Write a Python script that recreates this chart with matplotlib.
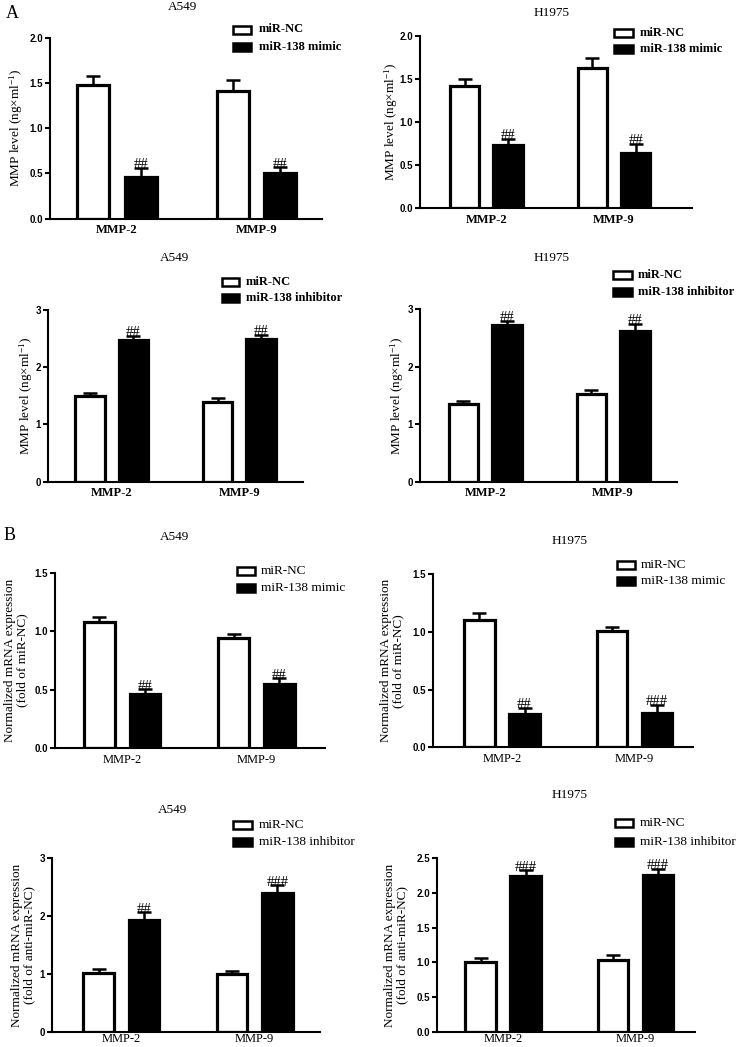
import matplotlib
matplotlib.use('Agg')
import matplotlib.pyplot as plt
from matplotlib.patches import Rectangle
import numpy as np

plt.rcParams['mathtext.fontset'] = 'custom'
plt.rcParams['mathtext.rm'] = 'Liberation Serif'
plt.rcParams['mathtext.it'] = 'Liberation Serif:italic'

# ---------------- data ----------------
groups = ['MMP-2', 'MMP-9']

a_mimic_a549_nc = [1.48, 1.41];   a_mimic_a549_nc_err = [0.10, 0.12]
a_mimic_a549_trt = [0.46, 0.50];  a_mimic_a549_trt_err = [0.10, 0.07]
a_mimic_h1975_nc = [1.42, 1.63];  a_mimic_h1975_nc_err = [0.08, 0.12]
a_mimic_h1975_trt = [0.73, 0.64]; a_mimic_h1975_trt_err = [0.08, 0.11]
a_inh_a549_nc = [1.49, 1.40];     a_inh_a549_nc_err = [0.06, 0.06]
a_inh_a549_trt = [2.47, 2.50];    a_inh_a549_trt_err = [0.08, 0.07]
a_inh_h1975_nc = [1.35, 1.53];    a_inh_h1975_nc_err = [0.05, 0.06]
a_inh_h1975_trt = [2.73, 2.63];   a_inh_h1975_trt_err = [0.07, 0.12]

b_mimic_a549_nc = [1.08, 0.94];   b_mimic_a549_nc_err = [0.045, 0.035]
b_mimic_a549_trt = [0.46, 0.55];  b_mimic_a549_trt_err = [0.045, 0.05]
b_mimic_h1975_nc = [1.10, 1.01];  b_mimic_h1975_nc_err = [0.065, 0.035]
b_mimic_h1975_trt = [0.29, 0.30]; b_mimic_h1975_trt_err = [0.05, 0.07]
b_inh_a549_nc = [1.01, 1.00];     b_inh_a549_nc_err = [0.08, 0.045]
b_inh_a549_trt = [1.94, 2.40];    b_inh_a549_trt_err = [0.13, 0.13]
b_inh_h1975_nc = [1.01, 1.03];    b_inh_h1975_nc_err = [0.05, 0.08]
b_inh_h1975_trt = [2.25, 2.26];   b_inh_h1975_trt_err = [0.08, 0.09]

sig_a_mimic_a549 = ['##', '##']
sig_a_mimic_h1975 = ['##', '##']
sig_a_inh_a549 = ['##', '##']
sig_a_inh_h1975 = ['##', '##']
sig_b_mimic_a549 = ['##', '##']
sig_b_mimic_h1975 = ['##', '###']
sig_b_inh_a549 = ['##', '###']
sig_b_inh_h1975 = ['###', '###']

ticks_2 = [0.0, 0.5, 1.0, 1.5, 2.0]
ticks_3 = [0, 1, 2, 3]
ticks_15 = [0.0, 0.5, 1.0, 1.5]
ticks_25 = [0.0, 0.5, 1.0, 1.5, 2.0, 2.5]

ylab_a = 'MMP level (ng×ml$^{-1}$)'
ylab_b1 = 'Normalized mRNA expression\n(fold of miR-NC)'
ylab_b2 = 'Normalized mRNA expression\n(fold of anti-miR-NC)'
leg_nc = 'miR-NC'
leg_mimic = 'miR-138 mimic'
leg_inh = 'miR-138 inhibitor'

# ---------------- layout ----------------
W, H = 740, 1047
fig = plt.figure(figsize=(W / 100, H / 100), dpi=100)

SERIF = 'Liberation Serif'
SANS = 'Liberation Sans'

panels = [
    dict(rect=(50, 322, 218.7, 37.7), xlim=(-0.48, 1.47), ticks=ticks_2, fmt='{:.1f}',
         nc=a_mimic_a549_nc, nce=a_mimic_a549_nc_err, tr=a_mimic_a549_trt, tre=a_mimic_a549_trt_err,
         sig=sig_a_mimic_a549, title='A549', tpos=(182, 7), ylab=ylab_a, ylx=16,
         leg=leg_mimic, box=(233, 251), ly=(29.5, 47), tx=259, bold=True, xpad=4),
    dict(rect=(420, 692, 208.3, 36), xlim=(-0.52, 1.61), ticks=ticks_2, fmt='{:.1f}',
         nc=a_mimic_h1975_nc, nce=a_mimic_h1975_nc_err, tr=a_mimic_h1975_trt, tre=a_mimic_h1975_trt_err,
         sig=sig_a_mimic_h1975, title='H1975', tpos=(552, 13), ylab=ylab_a, ylx=391,
         leg=leg_mimic, box=(614, 633), ly=(33, 49), tx=640, bold=True, xpad=4),
    dict(rect=(48, 303, 481.7, 310), xlim=(-0.50, 1.50), ticks=ticks_3, fmt='{:.0f}',
         nc=a_inh_a549_nc, nce=a_inh_a549_nc_err, tr=a_inh_a549_trt, tre=a_inh_a549_trt_err,
         sig=sig_a_inh_a549, title='A549', tpos=(175, 258), ylab=ylab_a, ylx=26,
         leg=leg_inh, box=(222, 239), ly=(282, 298), tx=246, bold=True, xpad=4),
    dict(rect=(420, 677, 481.7, 309.3), xlim=(-0.51, 1.50), ticks=ticks_3, fmt='{:.0f}',
         nc=a_inh_h1975_nc, nce=a_inh_h1975_nc_err, tr=a_inh_h1975_trt, tre=a_inh_h1975_trt_err,
         sig=sig_a_inh_h1975, title='H1975', tpos=(552, 258), ylab=ylab_a, ylx=397,
         leg=leg_inh, box=(613, 632), ly=(275, 292), tx=638, bold=True, xpad=4),
    dict(rect=(55, 325, 748.3, 572.7), xlim=(-0.50, 1.51), ticks=ticks_15, fmt='{:.1f}',
         nc=b_mimic_a549_nc, nce=b_mimic_a549_nc_err, tr=b_mimic_a549_trt, tre=b_mimic_a549_trt_err,
         sig=sig_b_mimic_a549, title='A549', tpos=(175, 537), ylab=ylab_b1, ylx=16,
         leg=leg_mimic, box=(237, 255), ly=(571, 588), tx=261, bold=False, xpad=4),
    dict(rect=(433, 693, 747.3, 574), xlim=(-0.52, 1.44), ticks=ticks_15, fmt='{:.1f}',
         nc=b_mimic_h1975_nc, nce=b_mimic_h1975_nc_err, tr=b_mimic_h1975_trt, tre=b_mimic_h1975_trt_err,
         sig=sig_b_mimic_h1975, title='H1975', tpos=(570, 541), ylab=ylab_b1, ylx=392,
         leg=leg_mimic, box=(617, 635), ly=(565, 581), tx=641, bold=False, xpad=4),
    dict(rect=(52, 320, 1031.7, 858.3), xlim=(-0.52, 1.49), ticks=ticks_3, fmt='{:.0f}',
         nc=b_inh_a549_nc, nce=b_inh_a549_nc_err, tr=b_inh_a549_trt, tre=b_inh_a549_trt_err,
         sig=sig_b_inh_a549, title='A549', tpos=(173, 810), ylab=ylab_b2, ylx=23,
         leg=leg_inh, box=(233, 252), ly=(825, 842), tx=259, bold=False, xpad=1.2),
    dict(rect=(437, 695, 1031.7, 858.3), xlim=(-0.50, 1.45), ticks=ticks_25, fmt='{:.1f}',
         nc=b_inh_h1975_nc, nce=b_inh_h1975_nc_err, tr=b_inh_h1975_trt, tre=b_inh_h1975_trt_err,
         sig=sig_b_inh_h1975, title='H1975', tpos=(570, 795), ylab=ylab_b2, ylx=396,
         leg=leg_inh, box=(615, 633), ly=(823, 842), tx=640, bold=False, xpad=1.2),
]

OFF = 0.17
WID = 0.23
BAR_LW = 2.3

for p in panels:
    x0, x1, yz, yt = p['rect']
    ax = fig.add_axes([x0 / W, 1 - yz / H, (x1 - x0) / W, (yz - yt) / H])
    x = np.arange(len(groups))
    nc = np.array(p['nc']); tr = np.array(p['tr'])
    nce = np.array(p['nce']); tre = np.array(p['tre'])
    ax.bar(x - OFF, nc, WID, color='white', edgecolor='black', linewidth=BAR_LW, zorder=2)
    ax.bar(x + OFF, tr, WID, color='black', edgecolor='black', linewidth=BAR_LW, zorder=2)
    ax.errorbar(x - OFF, nc, yerr=[np.zeros_like(nce), nce], fmt='none', ecolor='black',
                elinewidth=1.8, capsize=5, capthick=1.8, zorder=3, clip_on=False)
    ax.errorbar(x + OFF, tr, yerr=[np.zeros_like(tre), tre], fmt='none', ecolor='black',
                elinewidth=1.8, capsize=5, capthick=1.8, zorder=3, clip_on=False)
    for xi, v, e, s in zip(x + OFF, tr, tre, p['sig']):
        ax.annotate(s, (xi, v + e), xytext=(0, -2.5), textcoords='offset points',
                    ha='center', va='bottom', fontsize=10.5, family=SERIF, annotation_clip=False)
    ax.set_xlim(*p['xlim'])
    ax.set_ylim(0, p['ticks'][-1])
    for sp in ['top', 'right']:
        ax.spines[sp].set_visible(False)
    for sp in ['left', 'bottom']:
        ax.spines[sp].set_linewidth(1.5)
    ax.set_yticks(p['ticks'])
    ax.set_yticklabels([p['fmt'].format(t) for t in p['ticks']], family=SANS,
                       fontweight='bold', fontsize=7)
    ax.tick_params(axis='y', length=3.5, width=1.5, pad=1.5)
    ax.set_xticks(x)
    ax.set_xticklabels(groups, family=SERIF, fontsize=9,
                       fontweight='bold' if p['bold'] else 'normal')
    ax.tick_params(axis='x', length=0, pad=p['xpad'])

    # title
    fig.text(p['tpos'][0] / W, 1 - p['tpos'][1] / H, p['title'], ha='center', va='center',
             family=SERIF, fontsize=9.5)
    # y label
    fig.text(p['ylx'] / W, 1 - ((yz + yt) / 2) / H, p['ylab'], rotation=90, ha='center',
             va='center', multialignment='center', family=SERIF, fontsize=9.5, linespacing=1.0)
    # legend
    bx0, bx1 = p['box']
    bh = 8
    for cy, fc, lab in zip(p['ly'], ['white', 'black'], [leg_nc, p['leg']]):
        fig.add_artist(Rectangle((bx0 / W, 1 - (cy + bh / 2) / H), (bx1 - bx0) / W, bh / H,
                                 transform=fig.transFigure, facecolor=fc, edgecolor='black',
                                 linewidth=1.8))
        fig.text(p['tx'] / W, 1 - cy / H, lab, ha='left', va='center', family=SERIF,
                 fontsize=9.5 if not p['bold'] else 9, fontweight='bold' if p['bold'] else 'normal')

fig.text(12 / W, 1 - 13 / H, 'A', ha='center', va='center', family=SERIF, fontsize=13)
fig.text(10 / W, 1 - 535 / H, 'B', ha='center', va='center', family=SERIF, fontsize=13)

fig.savefig('out.png', dpi=100)
